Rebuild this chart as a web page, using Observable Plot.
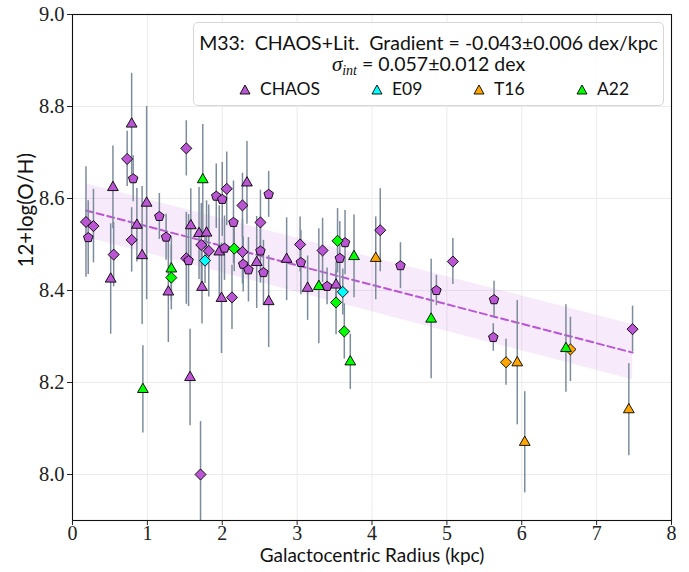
<!DOCTYPE html>
<html><head><meta charset="utf-8">
<script src="https://cdn.jsdelivr.net/npm/d3@7"></script>
<script src="https://cdn.jsdelivr.net/npm/@observablehq/plot@0.6"></script>
<style>
body{margin:0;background:#fff;}
#wrap{position:relative;width:689px;height:572px;}
#legend{position:absolute;left:193px;top:22px;width:471px;height:84px;box-sizing:border-box;border:1px solid #d6d6d6;border-radius:5px;background:rgba(255,255,255,0.88);font-family:Lato,"DejaVu Sans",sans-serif;color:#111;}
#legend .l1{position:absolute;left:0;right:0;top:10px;height:20px;line-height:20px;text-align:center;font-size:19.5px;white-space:nowrap;}
#legend .l2{position:absolute;left:0;right:0;top:31px;height:20px;line-height:20px;text-align:center;font-size:19.5px;white-space:nowrap;}
#legend .sig{font-family:"Liberation Serif",serif;font-style:italic;font-size:21px;}
#legend .sub{font-family:"Liberation Serif",serif;font-style:italic;font-size:14px;vertical-align:-4px;line-height:10px;}
#legend .item{position:absolute;top:57px;height:18px;line-height:18px;font-size:17.5px;white-space:nowrap;display:flex;align-items:center;}
#legend .item svg{margin-right:9px;}
</style>
</head><body>
<div id="wrap"><div id="chart"></div>
<div id="legend"></div></div>
<script>
// ---- data ----
const radius = [0.18,0.21,0.28,0.54,0.55,0.51,0.79,0.73,0.81,0.86,0.79,0.93,0.99,0.94,1.16,1.25,1.28,1.32,1.32,1.52,1.52,1.55,1.57,1.58,1.69,1.72,1.73,1.71,1.74,1.77,1.79,1.82,1.92,2.00,2.06,1.96,1.99,2.03,2.13,2.15,2.16,2.27,2.27,2.28,2.33,2.35,2.46,2.51,2.51,2.55,2.62,2.62,2.86,3.04,3.05,3.14,3.29,3.34,3.40,3.52,3.54,3.64,3.57,3.76,3.61,3.52,3.63,3.71,4.05,4.11,4.38,4.86,4.79,5.08,5.63,5.62,5.79,5.94,6.04,6.59,6.65,7.48,7.43];
const abundance = [8.549,8.515,8.540,8.624,8.478,8.425,8.762,8.686,8.643,8.542,8.510,8.476,8.590,8.185,8.561,8.516,8.397,8.447,8.428,8.709,8.470,8.465,8.211,8.541,8.524,8.499,8.407,8.000,8.641,8.465,8.525,8.486,8.605,8.598,8.621,8.484,8.383,8.492,8.385,8.548,8.491,8.585,8.484,8.457,8.634,8.445,8.461,8.548,8.486,8.439,8.609,8.376,8.468,8.500,8.461,8.405,8.409,8.487,8.409,8.412,8.508,8.504,8.470,8.474,8.397,8.374,8.311,8.245,8.470,8.531,8.454,8.400,8.338,8.463,8.380,8.298,8.244,8.243,8.070,8.274,8.272,8.316,8.141];
const abundanceErr = [0.12,0.08,0.08,0.09,0.07,0.12,0.11,0.06,0.05,0.08,0.07,0.15,0.21,0.095,0.05,0.05,0.11,0.07,0.07,0.06,0.10,0.10,0.105,0.08,0.10,0.09,0.08,0.115,0.12,0.05,0.07,0.10,0.07,0.08,0.08,0.10,0.12,0.07,0.07,0.09,0.05,0.07,0.07,0.06,0.09,0.07,0.10,0.07,0.07,0.07,0.05,0.10,0.09,0.06,0.07,0.07,0.125,0.07,0.04,0.05,0.07,0.07,0.08,0.09,0.05,0.07,0.06,0.06,0.09,0.09,0.05,0.033,0.13,0.05,0.04,0.03,0.05,0.135,0.11,0.095,0.07,0.05,0.10];
const source = ["CHAOS","CHAOS","CHAOS","CHAOS","CHAOS","CHAOS","CHAOS","CHAOS","CHAOS","CHAOS","CHAOS","CHAOS","CHAOS","A22","CHAOS","CHAOS","CHAOS","A22","A22","CHAOS","CHAOS","CHAOS","CHAOS","CHAOS","CHAOS","CHAOS","CHAOS","CHAOS","A22","E09","CHAOS","CHAOS","CHAOS","CHAOS","CHAOS","CHAOS","CHAOS","CHAOS","CHAOS","CHAOS","A22","CHAOS","CHAOS","CHAOS","CHAOS","CHAOS","CHAOS","CHAOS","CHAOS","CHAOS","CHAOS","CHAOS","CHAOS","CHAOS","CHAOS","CHAOS","A22","CHAOS","CHAOS","CHAOS","A22","CHAOS","CHAOS","A22","E09","A22","A22","A22","T16","CHAOS","CHAOS","CHAOS","A22","CHAOS","CHAOS","CHAOS","T16","T16","T16","A22","T16","CHAOS","T16"];
const shape = ["dia","pent","dia","tri","dia","tri","tri","dia","pent","tri","dia","tri","tri","tri","pent","pent","tri","tri","dia","dia","dia","pent","tri","tri","tri","dia","tri","dia","tri","dia","tri","dia","pent","pent","dia","tri","tri","pent","dia","pent","dia","dia","dia","pent","tri","pent","tri","dia","pent","pent","pent","tri","tri","dia","pent","tri","tri","dia","pent","tri","dia","pent","pent","tri","dia","dia","dia","tri","tri","dia","pent","pent","tri","dia","pent","pent","dia","tri","tri","tri","dia","dia","tri"];
const sources = ["CHAOS","E09","T16","A22"];
const sourceColors = ["#BA55D3","#00FFFF","#FFA500","#00FF00"];
const fitRadius = [0.18, 7.48];
const fitAbundance = [8.574, 8.265];
const bandLow = [8.516, 8.206];
const bandHigh = [8.632, 8.326];
const xTicks = [0,1,2,3,4,5,6,7,8];
const yTicks = [8.0,8.2,8.4,8.6,8.8,9.0];

const data = radius.map((r,i)=>({r, oh: abundance[i], e: abundanceErr[i], src: source[i], shape: shape[i]}));
const fit = fitRadius.map((r,i)=>({r, oh: fitAbundance[i], lo: bandLow[i], hi: bandHigh[i]}));

const pentagon = {draw(ctx, size){
  const R = Math.sqrt(size/Math.PI);
  for(let i=0;i<5;i++){const a=-Math.PI/2+i*2*Math.PI/5; const x=R*Math.cos(a), y=R*Math.sin(a); if(i) ctx.lineTo(x,y); else ctx.moveTo(x,y);}
  ctx.closePath();
}};
const shapeSymbol = {tri: "triangle", dia: "diamond2", pent: pentagon};
const shapeR = {tri: 4.0, dia: 5.0, pent: 5.0};

const dotMarks = [];
for (const s of sources) for (const sh of ["tri","dia","pent"]) {
  const sub = data.filter(d=>d.src===s && d.shape===sh);
  if (sub.length) dotMarks.push(Plot.dot(sub, {x:"r", y:"oh", fill:"src", symbol: shapeSymbol[sh], r: shapeR[sh], stroke:"#000", strokeWidth:0.9}));
}

const chart = Plot.plot({
  width: 689, height: 572,
  marginLeft: 72, marginRight: 18, marginTop: 14, marginBottom: 52,
  style: {fontFamily: "'Liberation Serif', serif", fontSize: "20.5px", color: "#222", background: "#fff"},
  x: {domain: [0,8]},
  y: {domain: [7.9,9.0]},
  color: {domain: sources, range: sourceColors},
  marks: [
    Plot.gridX(xTicks, {stroke:"#ebebeb", strokeOpacity:1, strokeWidth:1}),
    Plot.gridY(yTicks, {stroke:"#ebebeb", strokeOpacity:1, strokeWidth:1}),
    Plot.areaY(fit, {x:"r", y1:"lo", y2:"hi", fill:"#BA55D3", fillOpacity:0.12}),
    Plot.line(fit, {x:"r", y:"oh", stroke:"#BA55D3", strokeWidth:2, strokeDasharray:"7,4"}),
    Plot.ruleX(data, {x:"r", y1: d=>d.oh-d.e, y2: d=>d.oh+d.e, stroke:"#7d8c9c", strokeWidth:1.5, clip:true}),
    ...dotMarks,
    Plot.frame({stroke:"#111", strokeWidth:1.1}),
    Plot.axisX(xTicks, {tickSize:5, tickPadding:0, label:null, fontSize:20, tickFormat: d=>d}),
    Plot.axisY(yTicks, {tickSize:5, tickPadding:3, label:null, tickFormat: d3.format(".1f")}),
    Plot.text(["Galactocentric Radius (kpc)"], {frameAnchor:"bottom", dy:41, fontFamily:"Lato, 'DejaVu Sans', sans-serif", fontSize:19, fill:"#111"}),
    Plot.text(["12+log(O/H)"], {frameAnchor:"left", dx:-46, rotate:-90, fontFamily:"Lato, 'DejaVu Sans', sans-serif", fontSize:20.5, fill:"#111"})
  ]
});
document.getElementById("chart").appendChild(chart);

// legend
const lg = document.getElementById("legend");
const tri = c => `<svg width="12" height="11" viewBox="0 0 12 11"><polygon points="6,1 11,10 1,10" fill="${c}" stroke="#000" stroke-width="0.9"/></svg>`;
const itemLeft = [45, 177, 279, 382];
lg.innerHTML = `<div class="l1">M33:&nbsp; CHAOS+Lit.&nbsp; Gradient = -0.043±0.006 dex/kpc</div>
<div class="l2"><span class="sig">σ</span><span class="sub">int</span> = 0.057±0.012 dex</div>` +
 sources.map((s,i)=>`<div class="item" style="left:${itemLeft[i]}px">${tri(sourceColors[i])}${s}</div>`).join("");
</script>
</body></html>
